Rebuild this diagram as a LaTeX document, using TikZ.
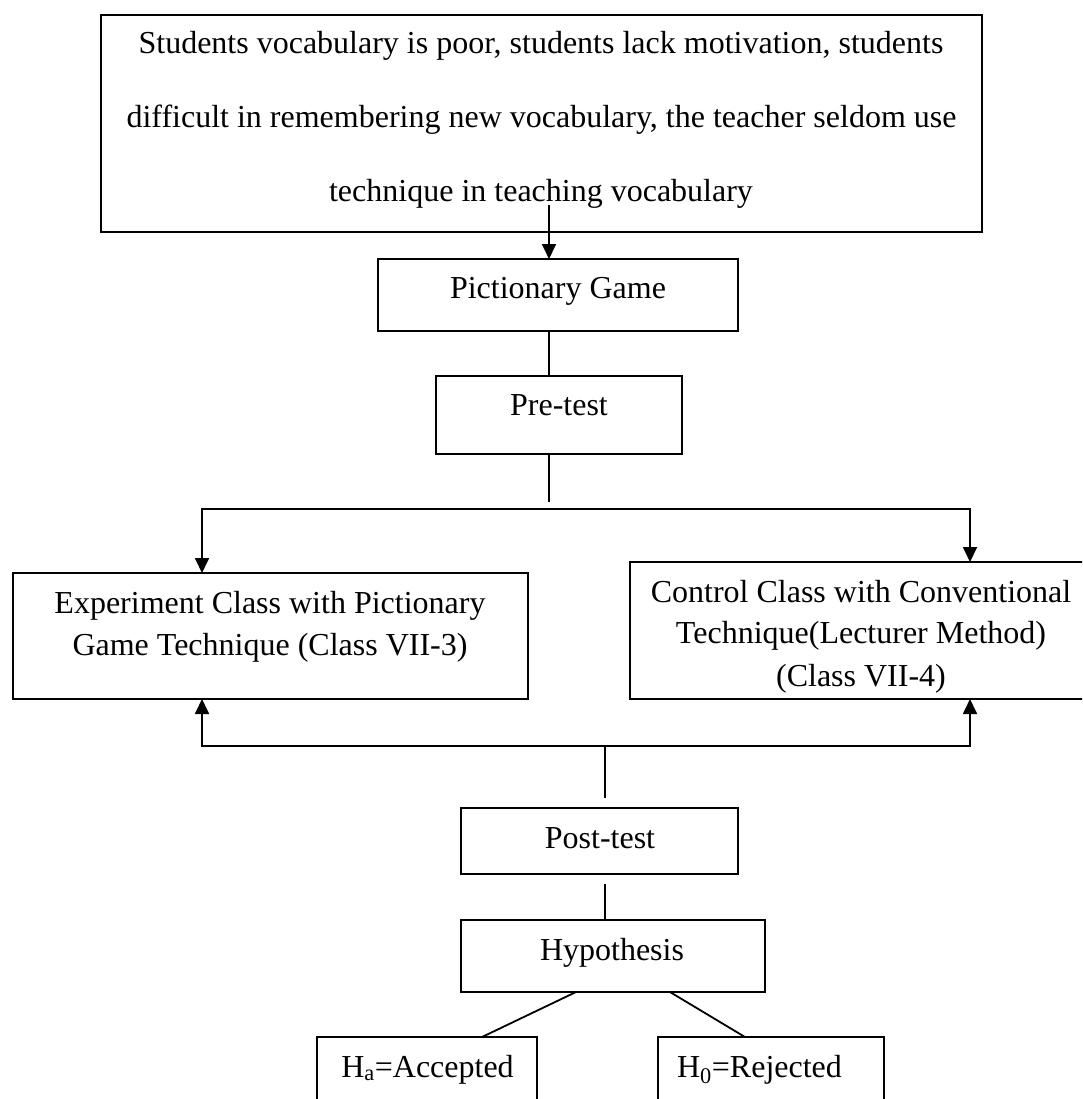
\documentclass[tikz,border=0pt]{standalone}
\usepackage{fontspec}
\setmainfont{Liberation Serif}
\usetikzlibrary{arrows.meta,calc}
\begin{document}
\begin{tikzpicture}[x=1pt,y=-1pt,
  box/.style={draw, line width=1.8pt, rectangle, inner sep=0pt, outer sep=0pt},
  txt/.style={anchor=base, inner sep=0pt, font=\fontsize{32}{38}\selectfont},
  conn/.style={line width=1.8pt},
  arr/.style={line width=1.8pt, -{Triangle[length=15pt,width=14pt]}},
  dbl/.style={line width=1.8pt, {Triangle[length=15pt,width=14pt]}-{Triangle[length=15pt,width=14pt]}}]
\fill[white] (0,0) rectangle (1082,1099);
\useasboundingbox (0,0) rectangle (1082,1099);
\clip (0,0) rectangle (1082,1099);
% boxes
\node[box, minimum width=881pt, minimum height=217pt] (top) at (541.5,123.5) {};
\node[box, minimum width=360pt, minimum height=72pt] (pict) at (558,295) {};
\node[box, minimum width=246pt, minimum height=78pt] (pre) at (559,415) {};
\node[box, minimum width=515pt, minimum height=126pt] (exp) at (270.5,636) {};
\node[box, minimum width=456pt, minimum height=137pt] (ctl) at (858,630.5) {};
\node[box, minimum width=277pt, minimum height=66pt] (post) at (599.5,841) {};
\node[box, minimum width=304pt, minimum height=72pt] (hyp) at (613,956) {};
\node[box, minimum width=220pt, minimum height=90pt] (ha) at (427,1082) {};
\node[box, minimum width=226pt, minimum height=90pt] (hz) at (771,1082) {};
% texts
\node[txt] (t1) at (541,54) {Students vocabulary is poor, students lack motivation, students};
\node[txt] (t2) at (541.5,128) {difficult in remembering new vocabulary, the teacher seldom use};
\node[txt] (t3) at (541,202) {technique in teaching vocabulary};
\node[txt] (tp) at (558,298) {Pictionary Game};
\node[txt] (tpre) at (559,415) {Pre-test};
\node[txt] (te1) at (270,613) {Experiment Class with Pictionary};
\node[txt] (te2) at (270,655) {Game Technique (Class VII-3)};
\node[txt] (tc1) at (861,602) {Control Class with Conventional};
\node[txt] (tc2) at (861,643) {Technique(Lecturer Method)};
\node[txt] (tc3) at (861,686) {(Class VII-4)};
\node[txt] (tpost) at (600,848) {Post-test};
\node[txt] (thyp) at (612,960) {Hypothesis};
\node[txt] (tha) at (427.5,1077) {H\textsubscript{a}=Accepted};
\node[txt] (thz) at (759.5,1077) {H\textsubscript{0}=Rejected};
% connector coordinates
\coordinate (s1) at (549,205);
\coordinate (j1) at (549,502);
\coordinate (hl) at (202,509);
\coordinate (hr) at (970,509);
\coordinate (bl) at (202,746);
\coordinate (br) at (970,746);
\coordinate (j2) at (605,746);
\coordinate (j2e) at (605,798);
\coordinate (j3) at (605,884);
\coordinate (dl) at (576,992);
\coordinate (dr) at (670,992);
\coordinate (el) at (482,1037);
\coordinate (er) at (745,1037);
% connectors
\draw[arr] (s1) -- (s1 |- pict.north);
\draw[conn] (s1 |- pict.south) -- (s1 |- pre.north);
\draw[conn] (s1 |- pre.south) -- (j1);
\draw[dbl] (hl |- exp.north) -- (hl) -- (hr) -- (hr |- ctl.north);
\draw[dbl] (bl |- exp.south) -- (bl) -- (br) -- (br |- ctl.south);
\draw[conn] (j2) -- (j2e);
\draw[conn] (j3) -- (j3 |- hyp.north);
\draw[conn] (dl) -- (el);
\draw[conn] (dr) -- (er);
\end{tikzpicture}
\end{document}
